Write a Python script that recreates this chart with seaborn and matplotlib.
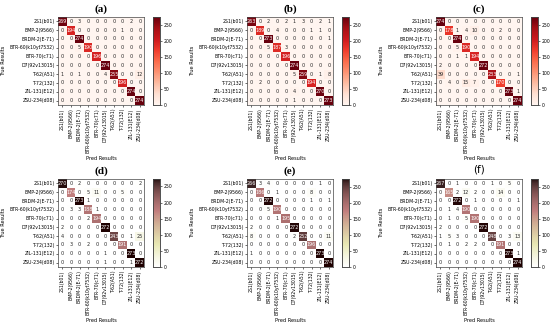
import numpy as np
import matplotlib
matplotlib.use("Agg")
import matplotlib.pyplot as plt
import seaborn as sns

classes = ["2S1(b01)", "BMP-2(9566)", "BRDM-2(E-71)", "BTR-60(k10yt7532)", "BTR-70(c71)",
           "D7(92v13015)", "T-62(A51)", "T-72(132)", "ZIL-131(E12)", "ZSU-234(d08)"]

cm_a = [[269, 0, 3, 0, 0, 0, 0, 0, 2, 0],
        [0, 194, 0, 0, 0, 0, 0, 1, 0, 0],
        [0, 0, 274, 0, 0, 0, 0, 0, 0, 0],
        [0, 0, 5, 190, 0, 0, 0, 0, 0, 0],
        [0, 0, 0, 0, 196, 0, 0, 0, 0, 0],
        [0, 0, 0, 0, 0, 274, 0, 0, 0, 0],
        [1, 0, 1, 0, 0, 4, 255, 0, 0, 12],
        [0, 0, 0, 0, 0, 0, 0, 196, 0, 0],
        [0, 0, 0, 0, 0, 0, 0, 0, 274, 0],
        [0, 0, 0, 0, 0, 0, 0, 0, 0, 274]]

cm_b = [[263, 0, 2, 0, 2, 1, 3, 0, 2, 1],
        [0, 189, 0, 4, 0, 0, 0, 1, 1, 0],
        [0, 0, 273, 0, 0, 0, 0, 0, 0, 1],
        [0, 0, 5, 187, 3, 0, 0, 0, 0, 0],
        [0, 0, 0, 0, 196, 0, 0, 0, 0, 0],
        [0, 0, 0, 0, 0, 274, 0, 0, 0, 0],
        [0, 0, 0, 0, 0, 5, 259, 0, 1, 8],
        [0, 2, 0, 0, 0, 0, 0, 194, 0, 0],
        [0, 0, 0, 0, 0, 4, 0, 0, 270, 0],
        [0, 0, 0, 0, 0, 1, 0, 0, 0, 273]]

cm_c = [[274, 0, 0, 0, 0, 0, 0, 0, 0, 0],
        [0, 178, 1, 4, 10, 0, 0, 2, 0, 0],
        [0, 0, 274, 0, 0, 0, 0, 0, 0, 0],
        [0, 0, 5, 190, 0, 0, 0, 0, 0, 0],
        [0, 0, 1, 1, 194, 0, 0, 0, 0, 0],
        [2, 0, 0, 0, 0, 272, 0, 0, 0, 0],
        [39, 0, 0, 0, 0, 0, 233, 0, 0, 1],
        [0, 4, 0, 15, 7, 0, 0, 170, 0, 0],
        [0, 0, 0, 0, 0, 0, 0, 0, 273, 1],
        [0, 0, 0, 0, 0, 0, 0, 0, 0, 274]]

cm_d = [[270, 0, 2, 0, 0, 0, 0, 0, 0, 2],
        [0, 174, 0, 5, 11, 0, 0, 5, 0, 0],
        [0, 0, 273, 1, 0, 0, 0, 0, 0, 0],
        [0, 3, 3, 188, 1, 0, 0, 0, 0, 0],
        [0, 0, 0, 2, 194, 0, 0, 0, 0, 0],
        [2, 0, 0, 0, 0, 272, 0, 0, 0, 0],
        [4, 0, 0, 0, 0, 0, 243, 0, 1, 25],
        [0, 3, 0, 2, 0, 0, 0, 191, 0, 0],
        [0, 0, 0, 0, 0, 1, 0, 0, 273, 0],
        [0, 0, 0, 0, 0, 1, 0, 0, 1, 272]]

cm_e = [[266, 3, 4, 0, 0, 0, 0, 0, 1, 0],
        [0, 186, 0, 1, 0, 0, 0, 8, 0, 0],
        [0, 0, 272, 0, 0, 0, 0, 1, 0, 1],
        [0, 0, 5, 190, 0, 0, 0, 0, 0, 0],
        [0, 0, 0, 1, 195, 0, 0, 0, 0, 0],
        [2, 0, 0, 0, 0, 272, 0, 0, 0, 0],
        [8, 0, 0, 0, 0, 2, 252, 0, 0, 11],
        [0, 0, 0, 0, 0, 0, 0, 196, 0, 0],
        [1, 0, 0, 0, 0, 0, 0, 0, 273, 0],
        [0, 0, 0, 0, 0, 0, 0, 0, 0, 274]]

cm_f = [[267, 0, 1, 0, 0, 0, 1, 0, 5, 0],
        [0, 165, 2, 12, 2, 0, 0, 14, 0, 0],
        [0, 0, 272, 0, 1, 0, 0, 0, 0, 1],
        [0, 1, 4, 190, 0, 0, 0, 0, 0, 0],
        [0, 1, 0, 5, 190, 0, 0, 0, 0, 0],
        [2, 0, 0, 0, 0, 272, 0, 0, 0, 0],
        [1, 5, 3, 0, 0, 0, 248, 0, 3, 13],
        [0, 1, 0, 2, 2, 0, 0, 191, 0, 0],
        [0, 0, 0, 0, 0, 0, 0, 0, 273, 1],
        [0, 0, 0, 0, 0, 0, 0, 0, 0, 274]]

panels = [("(a)", cm_a, "Reds"), ("(b)", cm_b, "Reds"), ("(c)", cm_c, "Reds"),
          ("(d)", cm_d, "pink_r"), ("(e)", cm_e, "pink_r"), ("(f)", cm_f, "pink_r")]

W, H = 550, 324
fig = plt.figure(figsize=(W / 100, H / 100), dpi=100)


def box(x, y, w, h):
    # pixel box (top-left origin) -> figure fraction
    return [x / W, 1 - (y + h) / H, w / W, h / H]


for i, (title, cm, cmap) in enumerate(panels):
    row, col = divmod(i, 3)
    x0 = 58 + col * 189
    y0 = 17 + row * 162
    ax = fig.add_axes(box(x0, y0, 86, 88))
    cax = fig.add_axes(box(x0 + 95, y0, 7, 88))
    data = np.array(cm)
    sns.heatmap(data, ax=ax, cbar_ax=cax, cmap=cmap, vmin=0,
                annot=True, fmt="d", annot_kws={"size": 3.5},
                xticklabels=classes, yticklabels=classes)
    for s in ax.spines.values():
        s.set_visible(True)
        s.set_linewidth(0.5)
        s.set_color("#444444")
    ax.tick_params(labelsize=3.3, length=1.5, width=0.4, pad=1)
    ax.set_xticklabels(classes, rotation=90)
    ax.set_yticklabels(classes, rotation=0)
    ax.set_xlabel("Pred Results", fontsize=3.6, labelpad=2)
    ax.set_ylabel("True Results", fontsize=3.6, labelpad=2)
    if title == "(f)":
        ax.set_title(title, fontsize=7.5, pad=5)
    else:
        ax.set_title(title, fontsize=8, fontweight="bold", family="Liberation Serif", pad=4)
    ax.yaxis.set_label_coords(-0.6, 0.5)
    cax.tick_params(labelsize=3.3, length=1.5, width=0.4, pad=1)
    cax.set_yticks([0, 50, 100, 150, 200, 250])
    for s in cax.spines.values():
        s.set_visible(True)
        s.set_linewidth(0.5)
        s.set_color("#444444")

fig.savefig("out.png", dpi=100)
